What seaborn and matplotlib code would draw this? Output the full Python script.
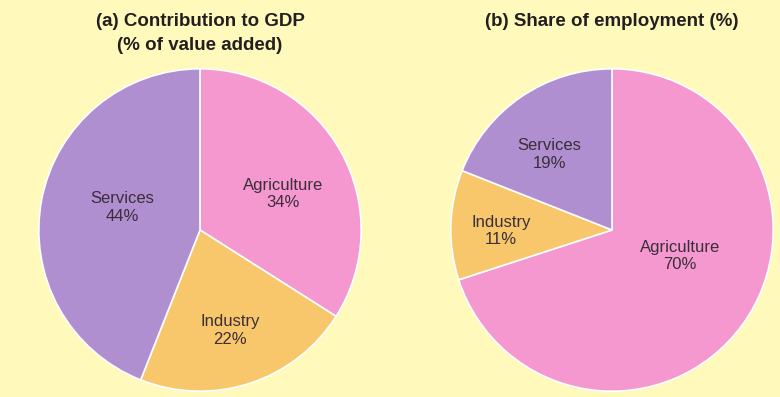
import numpy as np
import seaborn as sns
import matplotlib.pyplot as plt

## datos
sectores = ['Agriculture', 'Industry', 'Services']
pib = [34, 22, 44]
empleo = [70, 11, 19]

colores = sns.color_palette(['#F598D0', '#F9C76B', '#B08FD0'])
fondo = '#FFFABB'

sns.set_theme(style='white')
plt.rcParams['font.family'] = ['Liberation Sans', 'DejaVu Sans']

fig = plt.figure(figsize=(7.8, 3.97), dpi=100)
fig.patch.set_facecolor(fondo)

ax1 = fig.add_axes([38/780, 5/397, 324/780, 324/397])
ax2 = fig.add_axes([450/780, 5/397, 324/780, 324/397])

## posicion de etiquetas: distancia al centro y giro respecto al centro de la cuña
def pastel(ax, valores, distancias, giros):
    wedges, _ = ax.pie(valores, colors=colores, startangle=90, counterclock=False,
                       wedgeprops=dict(edgecolor='white', linewidth=1.2))
    for w, nombre, v, d, g in zip(wedges, sectores, valores, distancias, giros):
        ang = np.deg2rad((w.theta1 + w.theta2) / 2 + g)
        ax.text(d*np.cos(ang), d*np.sin(ang), f'{nombre}\n{v}%', ha='center', va='center',
                fontsize=12, color='#3a2e3a', linespacing=1.22)
    ax.set_xlim(-1.005, 1.005)
    ax.set_ylim(-1.005, 1.005)
    ax.set_aspect('equal')
    ax.set_facecolor(fondo)
    ax.axis('off')

pastel(ax1, pib, [0.56, 0.65, 0.50], [-5.4, -1.5, -5.6])
pastel(ax2, empleo, [0.45, 0.69, 0.61], [15, 2.3, 5.5])

fig.text(200/780, 1-21/397, '(a) Contribution to GDP', ha='center', va='center',
         fontsize=13.5, fontweight='bold', color='#231f20')
fig.text(200/780, 1-45/397, '(% of value added)', ha='center', va='center',
         fontsize=13.5, fontweight='bold', color='#231f20')
fig.text(612/780, 1-21/397, '(b) Share of employment (%)', ha='center', va='center',
         fontsize=13.5, fontweight='bold', color='#231f20')

fig.savefig('out.png', dpi=100, facecolor=fondo)
